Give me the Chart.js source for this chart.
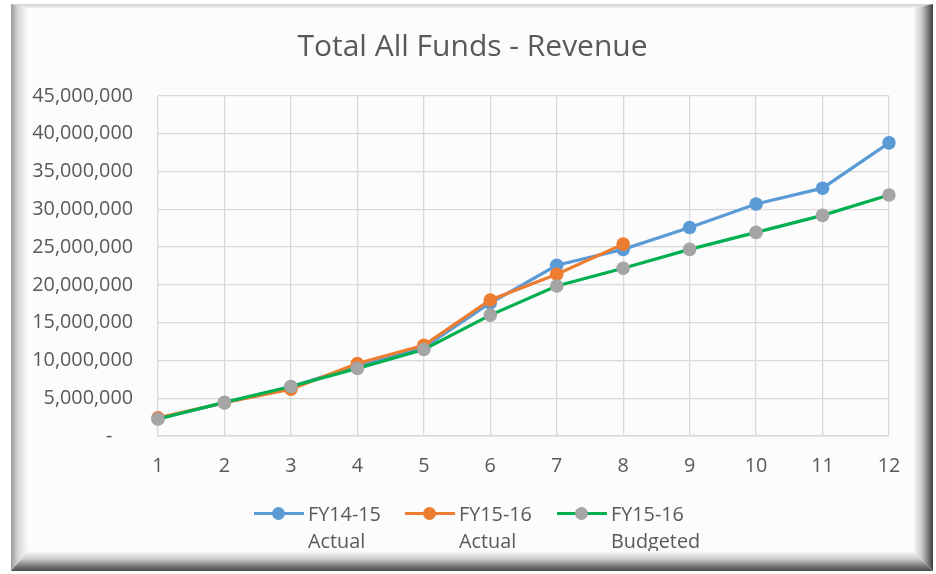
<!DOCTYPE html>
<html>
<head>
<meta charset="utf-8">
<script src="https://cdn.jsdelivr.net/npm/chart.js@4.4.1/dist/chart.umd.min.js"></script>
<style>
  body { margin: 0; background: #ffffff; }
  #wrap { position: relative; width: 936px; height: 574px; overflow: hidden; font-family: "Open Sans", sans-serif; }
  #panel { position: absolute; left: 28px; top: 8px; width: 885px; height: 543px; background: #fcfcfc; }
  .edge { position: absolute; left: 0; top: 0; width: 936px; height: 574px; }
  #top { clip-path: polygon(11px 4px, 933px 4px, 913px 8px, 28px 8px); background: linear-gradient(to bottom, #cfcfcf 4px, #f0f0f0 8px); }
  #left { clip-path: polygon(11px 4px, 28px 8px, 28px 551px, 11px 571px); background: linear-gradient(to right, #9a9a9a 11px, #d6d6d6 18px, #fbfbfb 28px); }
  #right { clip-path: polygon(933px 4px, 933px 571px, 913px 551px, 913px 8px); background: linear-gradient(to right, #fbfbfb 913px, #c8c8c8 922px, #707070 929px, #3c3c3c 933px); }
  #bottom { clip-path: polygon(11px 571px, 933px 571px, 913px 551px, 28px 551px); background: linear-gradient(to bottom, #fbfbfb 551px, #cacaca 559px, #7a7a7a 566px, #4a4a4a 571px); }
  canvas { position: absolute; left: 0; top: 0; }
  .item { position: absolute; top: 500px; height: 60px; }
  .swatch { position: absolute; top: 12px; width: 50px; height: 3px; }
  .dot { position: absolute; top: -5px; left: 18px; width: 13px; height: 13px; border-radius: 50%; }
  .txt { position: absolute; top: 0; left: 54px; font-size: 19.8px; line-height: 27px; color: #595959; white-space: nowrap; }
</style>
</head>
<body>
<div id="wrap">
  <div id="panel"></div>
  <canvas id="revChart" width="936" height="574"></canvas>
  <div id="legend"></div>
  <div class="edge" id="top"></div>
  <div class="edge" id="left"></div>
  <div class="edge" id="right"></div>
  <div class="edge" id="bottom"></div>
</div>
<script>
const months = ["1", "2", "3", "4", "5", "6", "7", "8", "9", "10", "11", "12"];
const fy1415Actual = [2300000, 4400000, 6500000, 9300000, 11700000, 17600000, 22600000, 24700000, 27600000, 30700000, 32800000, 38800000];
const fy1516Actual = [2400000, 4400000, 6200000, 9600000, 12000000, 18000000, 21400000, 25400000];
const fy1516Budget = [2250000, 4450000, 6550000, 8950000, 11450000, 16000000, 19850000, 22200000, 24700000, 26950000, 29200000, 31900000];
const seriesNames = [["FY14-15", "Actual"], ["FY15-16", "Actual"], ["FY15-16", "Budgeted"]];

const textColor = "#595959";
const gridColor = "#d9d9d9";

const data = {
  labels: months,
  datasets: [
    {
      label: "FY14-15 Actual",
      data: fy1415Actual,
      borderColor: "#5b9bd5",
      backgroundColor: "#5b9bd5",
      pointBackgroundColor: "#5b9bd5",
      order: 3,
    },
    {
      label: "FY15-16 Actual",
      data: fy1516Actual,
      borderColor: "#ed7d31",
      backgroundColor: "#ed7d31",
      pointBackgroundColor: "#ed7d31",
      order: 2,
    },
    {
      label: "FY15-16 Budgeted",
      data: fy1516Budget,
      borderColor: "#00b050",
      backgroundColor: "#a5a5a5",
      pointBackgroundColor: "#a5a5a5",
      order: 1,
    },
  ],
};

// centre the title over the framed panel, not the whole canvas
const titleShift = {
  id: "titleShift",
  afterLayout(chart) {
    if (chart.titleBlock) {
      chart.titleBlock.left = 56;
      chart.titleBlock.right = 889;
    }
  },
};

const config = {
  type: "line",
  data: data,
  plugins: [titleShift],
  options: {
    responsive: false,
    animation: false,
    layout: { padding: { left: 0, right: 47, top: 0, bottom: 0 } },
    elements: {
      line: { borderWidth: 3.2, tension: 0 },
      point: { radius: 6.8, borderWidth: 0, hoverRadius: 6.8 },
    },
    plugins: {
      legend: { display: false },
      tooltip: { enabled: false },
      title: {
        display: true,
        text: "Total All Funds - Revenue",
        color: textColor,
        font: { family: "Open Sans", size: 30, weight: "normal" },
        padding: { top: 29, bottom: 31 },
      },
    },
    scales: {
      x: {
        offset: false,
        grid: { color: gridColor, lineWidth: 1.3, drawTicks: false },
        border: { color: gridColor, width: 1.6 },
        ticks: { color: textColor, padding: 18, font: { family: "Open Sans", size: 19.8 } },
        afterFit: (scale) => { scale.height = 138; },
      },
      y: {
        min: 0,
        max: 45000000,
        grid: { color: gridColor, lineWidth: 1.3, drawTicks: false },
        border: { display: false },
        ticks: {
          stepSize: 5000000,
          color: textColor,
          padding: 25,
          font: { family: "Open Sans", size: 19.8 },
          callback: (v) => (v === 0 ? "-    " : v.toLocaleString("en-US")),
        },
        afterFit: (scale) => { scale.width = 158; },
      },
    },
  },
};

var ctx = document.getElementById("revChart").getContext("2d");
var revChart = new Chart(ctx, config);

// legend as html, two lines per entry like the original
const legendLeft = [254, 405, 557];
const legend = document.getElementById("legend");
data.datasets.forEach((ds, i) => {
  const item = document.createElement("div");
  item.className = "item";
  item.style.left = legendLeft[i] + "px";
  item.innerHTML =
    '<div class="swatch" style="background:' + ds.borderColor + '">' +
    '<div class="dot" style="background:' + ds.pointBackgroundColor + '"></div></div>' +
    '<div class="txt">' + seriesNames[i][0] + "<br>" + seriesNames[i][1] + "</div>";
  legend.appendChild(item);
});
</script>
</body>
</html>
